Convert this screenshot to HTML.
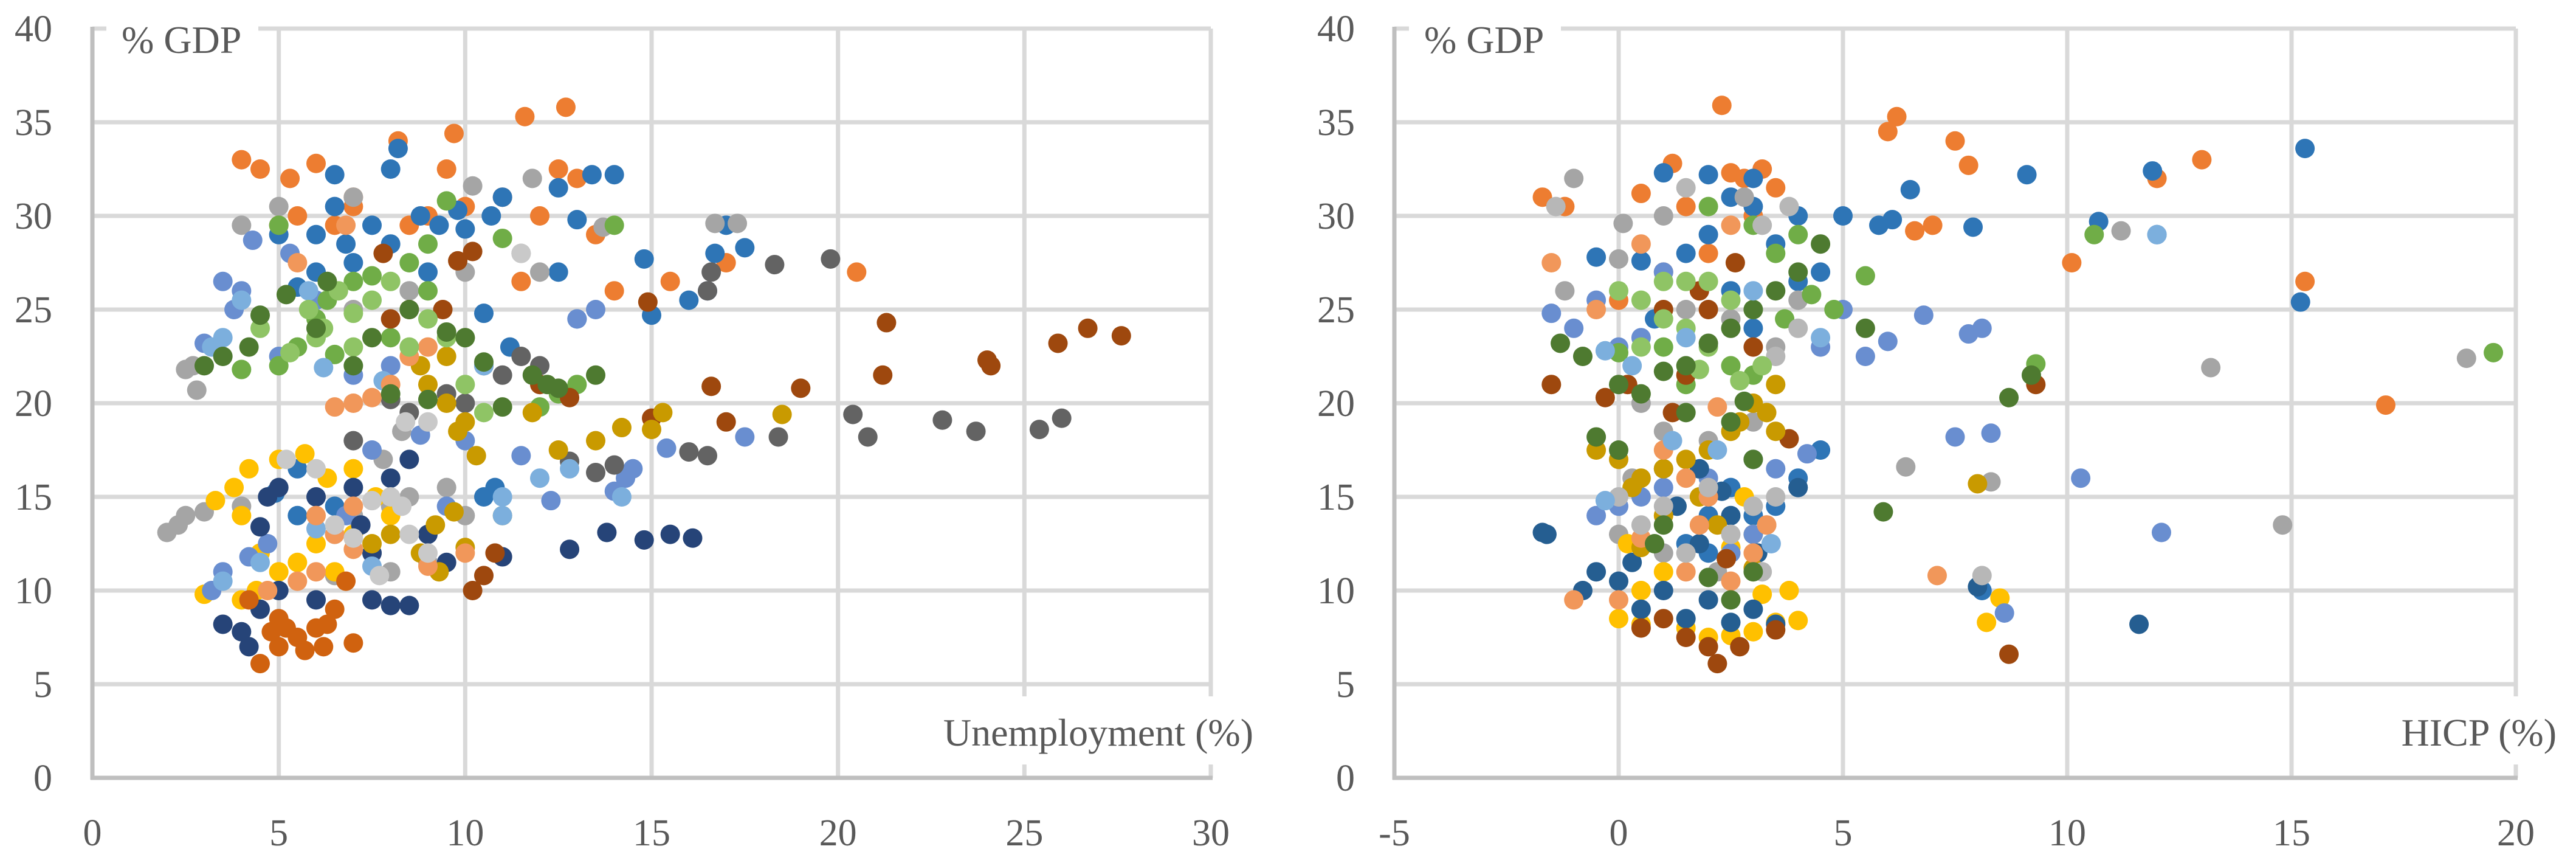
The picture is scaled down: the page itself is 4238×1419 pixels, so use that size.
<!DOCTYPE html>
<html><head><meta charset="utf-8"><style>
html,body{margin:0;padding:0;background:#fff;}
svg{display:block;}
text{font-family:"Liberation Serif",serif;fill:#595959;}
</style></head><body>
<svg id="chart" width="4238" height="1419" viewBox="0 0 4238 1419" xmlns="http://www.w3.org/2000/svg">
<g id="left"></g>
<g id="right"></g>
</svg>
<script>
// ---------- data ----------
const leftXTicks = [0,5,10,15,20,25,30];
const rightXTicks = [-5,0,5,10,15,20];
const yTicks = [0,5,10,15,20,25,30,35,40];
const seriesColors = ["#ED7D31","#2E75B6","#A5A5A5","#FFC000","#698ED0","#70AD47","#255E91","#9E480E","#636363","#C99A00","#7CAFDD","#F1975A","#B7B7B7","#8FC465","#4E7A30","#264478","#C55A11","#C9C9C9","#8FAADC"];
// left: unemployment (x), % GDP (y)
const L_orange = [[4,33],[4.5,32.5],[5.3,32],[6,32.8],[5.5,30],[7,31],[8.2,34],[9.7,34.4],[9.5,32.5],[11.6,35.3],[12.7,35.8],[12.5,32.5],[13,32],[11,31],[10,30.5],[8.5,29.5],[7,30.5],[6.5,29.5],[13.5,29],[15.5,26.5],[17,27.5],[20.5,27],[14,26],[12,30],[11.5,26.5],[9,30],[5,29.5]];
const L_blue = [[5,29],[6.5,30.5],[6,29],[6.8,28.5],[7.5,29.5],[8,32.5],[8.2,33.6],[6.5,32.2],[8.8,30],[9.3,29.5],[9.8,30.3],[10,29.3],[10.7,30],[11,31],[12.5,31.5],[13.4,32.2],[14,32.2],[13,29.8],[14.8,27.7],[16,25.5],[16.7,28],[17,29.5],[17.5,28.3],[15,24.7],[13,24.5],[12.5,27],[8,28.5],[9,27],[6,27],[5.5,26.2],[7,27.5],[10.5,24.8],[11.2,23],[10.8,15.5],[10.5,15],[6.5,14.5],[5.5,14],[4.9,15.2],[5.5,16.5]];
const L_gray = [[2,13.1],[2.3,13.5],[2.5,14],[3,14.2],[4,14.5],[2.8,20.7],[2.5,21.8],[2.7,22],[4,29.5],[5,30.5],[7,31],[10.2,31.6],[11.8,32],[11.5,28],[13.7,29.4],[16.7,29.6],[17.3,29.6],[12,27],[10,27],[8.5,26],[7,25],[6,24],[7.5,12],[8,11],[9,11.5],[8,14.5],[8.5,15],[7,14],[6.5,10.8],[10,14],[9.5,15.5],[7.8,17],[8.3,18.5]];
const L_yellow = [[3.3,14.8],[3.8,15.5],[4.2,16.5],[4,14],[4.5,12],[5.5,11.5],[6,12.5],[4.4,10],[5,17],[5.7,17.3],[6.3,16],[7,16.5],[7.6,15],[8,14],[4,9.5],[3,9.8],[6.5,11],[5,11],[7,13]];
const L_periwinkle = [[3.5,26.5],[3.8,25],[4.3,28.7],[4,26],[5.3,28],[6,25.5],[7,21.5],[8,22],[5,22.5],[3,23.2],[3.2,10],[3.5,11],[4.2,11.8],[4.7,12.5],[13,24.5],[13.5,25],[14,15.3],[14.3,16],[14.5,16.5],[12.3,14.8],[11.5,17.2],[10,18],[6.8,14],[7.5,17.5],[8.8,18.3],[17.5,18.2],[15.4,17.6],[16.5,26],[9.5,14.5]];
const L_green = [[4,21.8],[5,22],[5.5,23],[6,24.5],[6.3,25.5],[7,26.5],[7.5,26.8],[8.5,27.5],[9,28.5],[9.5,30.8],[5,29.5],[10,23.5],[11,28.8],[12.5,20.5],[13,21],[12,19.8],[14,29.5],[9,26],[8,23.5],[6.5,22.6]];
const L_darkblue = [[12.8,12.2],[13.8,13.1],[14.8,12.7],[15.5,13],[16.1,12.8],[11,11.8],[8.5,9.2],[8,9.2],[7.5,9.5],[7.5,12],[6,9.5],[5,10],[4.5,9],[4,7.8],[3.5,8.2],[4.2,7],[4.5,13.4],[4.7,15],[5,15.5],[6,15],[7,15.5],[8,16],[8.5,17],[9,13],[9.5,11.5],[7.2,13.5]];
const L_brown = [[26.7,24],[27.6,23.6],[25.9,23.2],[24,22.3],[24.1,22],[21.3,24.3],[21.2,21.5],[19,20.8],[16.6,20.9],[14.9,25.4],[12.8,20.3],[12,21],[10.2,28.1],[9.8,27.6],[10.5,10.8],[10.2,10],[10.8,12],[9.4,25],[8.5,25],[8,24.5],[7.8,28],[15,19.2],[17,19]];
const L_darkgray = [[19.8,27.7],[18.3,27.4],[16.6,27],[16.5,26],[18.4,18.2],[20.4,19.4],[20.8,18.2],[22.8,19.1],[23.7,18.5],[25.4,18.6],[26,19.2],[16.5,17.2],[16,17.4],[14,16.7],[13.5,16.3],[12.8,16.9],[10,20],[9.5,20.5],[11,21.5],[12,22],[8.5,19.5],[7,18],[8,20.2],[10.5,22],[11.5,22.5]];
const L_gold = [[8.8,22],[9.5,22.5],[9,21],[10,19],[9.5,20],[10.3,17.2],[9.8,18.5],[12.5,17.5],[11.8,19.5],[13.5,18],[14.2,18.7],[15,18.6],[15.3,19.5],[18.5,19.4],[10,12.3],[9.3,11],[8.8,12],[9.2,13.5],[8,13],[7.5,12.5],[11,14],[9.7,14.2]];
const L_lightblue = [[3.2,23],[3.5,23.5],[4,25.5],[5.8,26],[6.2,21.9],[7.8,21.2],[10.5,22],[11,15],[11,14],[12,16],[12.8,16.5],[14.2,15],[6,13.3],[6.5,13],[7.5,11.3],[3.5,10.5],[4.5,11.5]];
const L_salmon = [[5.5,27.5],[6.8,29.5],[6.5,19.8],[7,20],[7.5,20.3],[8,21],[9,23],[8.5,22.5],[6,14],[6.5,13],[7,14.5],[5.5,10.5],[6,11],[7,12.2],[9,11.3],[4.7,10],[10,12]];
const L_lightgreen = [[5.8,25],[6.2,24],[6.6,26],[7,24.8],[7.5,25.5],[7,23],[8,26.5],[8.5,23],[9,24.5],[9.5,23.5],[6,23.5],[5.3,22.7],[4.5,24],[10,21],[10.5,19.5]];
const L_darkgreen = [[3,22],[3.5,22.5],[4.2,23],[4.5,24.7],[5.2,25.8],[6,24],[6.3,26.5],[7.5,23.5],[8,20.5],[9,20.2],[10,23.5],[10.5,22.2],[11,19.8],[11.8,21.5],[12.2,21],[12.5,20.8],[13.5,21.5],[7,22],[8.5,25],[9.5,23.8]];
const L_darkorange = [[4.5,6.1],[5,7],[5.5,7.5],[6,8],[5,8.5],[4.8,7.8],[6.3,8.2],[7,7.2],[5.7,6.8],[6.5,9],[4.2,9.5],[5.2,8],[6.8,10.5],[6.2,7]];
const L_lightgray = [[6.5,13.5],[7,12.8],[7.5,14.8],[8,15],[8.3,14.5],[8.5,13],[9,12],[7.7,10.8],[8.4,19],[9,19],[5.2,17],[6,16.5],[11.5,28]];
// right: HICP (x), % GDP (y)
const R_orange = [[-1.7,31],[-1.2,30.5],[0.5,31.2],[1.2,32.8],[2.3,35.9],[2.5,32.3],[3.2,32.5],[2.8,32],[3.5,31.5],[6,34.5],[6.2,35.3],[7.5,34],[7.8,32.7],[10.1,27.5],[12,32],[13,33],[15.3,26.5],[17.1,19.9],[1.5,30.5],[3,30],[6.6,29.2],[7,29.5],[2,28],[1,27],[0,25.5]];
const R_blue = [[1,32.3],[2,32.2],[3,32],[2.5,31],[3,30.5],[4,30],[5,30],[5.8,29.5],[6.1,29.8],[6.5,31.4],[7.9,29.4],[9.1,32.2],[10.7,29.7],[11.9,32.4],[12,29],[15.3,33.6],[15.2,25.4],[2,29],[1.5,28],[3.5,28.5],[4,26.5],[4.5,27],[0.5,27.6],[-0.5,27.8],[2.5,26],[3,24],[0.8,24.5],[1,16.5],[2,14],[3,14],[3.5,14.5],[4,16],[4.5,17.5],[2.5,15.5],[1.5,12.5],[8.1,10],[2,12]];
const R_gray = [[-1,32],[0.1,29.6],[1,30],[2.8,31],[-1.2,26],[0,27.7],[11.2,29.2],[13.2,21.9],[14.8,13.5],[18.9,22.4],[6.4,16.6],[8.3,15.8],[1,18.5],[2,18],[3,19],[0.5,20],[3.5,23],[4,25.5],[1.5,25],[2.5,24.5],[0,13],[1,12],[0.3,16],[2.2,11],[3.3,13.5]];
const R_yellow = [[0,8.5],[0.5,8.2],[1.5,8],[2,7.5],[2.5,7.6],[3,7.8],[3.5,8.3],[4,8.4],[3.2,9.8],[3.8,10],[8.2,8.3],[8.5,9.6],[0.5,10],[1,11],[2.5,12.3],[3,13],[2.8,15],[0.2,12.5]];
const R_periwinkle = [[-1.5,24.8],[-1,24],[-0.5,25.5],[0,23],[0.5,23.5],[1,27],[5,25],[6,23.3],[6.8,24.7],[7.8,23.7],[8.1,24],[7.5,18.2],[8.3,18.4],[10.3,16],[12.1,13.1],[8.6,8.8],[-0.5,14],[0,14.5],[0.5,15],[1,15.5],[2,16],[3,17],[3.5,16.5],[4,15.5],[4.2,17.3],[4.5,23],[2.5,12],[3,13],[5.5,22.5]];
const R_green = [[4.3,25.8],[10.6,29],[19.5,22.7],[9.3,22.1],[5.5,26.8],[2,30.5],[3,29.5],[3.5,28],[4,29],[1,23],[0,22.7],[2.5,22],[1.5,21],[3,21.5],[4.8,25],[3.7,24.5]];
const R_darkblue = [[-0.8,10],[-0.5,11],[0,10.5],[0.5,9],[1,10],[1.5,8.5],[2,9.5],[2.5,8.3],[3,9],[1.8,12.5],[2.5,14],[1.3,14.5],[3.1,12],[4,15.5],[11.6,8.2],[8,10.2],[-1.6,13],[-1.7,13.1],[3.5,8.2],[0.3,11.5],[2.3,15.3],[1.8,16.5]];
const R_brown = [[-1.5,21],[-0.3,20.3],[0.2,21],[1,25],[1.2,19.5],[9.3,21],[8.7,6.6],[2,7],[2.2,6.1],[1.5,7.5],[0.5,8],[1,8.5],[2.7,7],[3.5,7.9],[2.4,11.7],[3.8,18.1],[3,23],[2,25],[2.6,27.5],[1.8,26],[1.5,21.5]];
const R_gold = [[-0.5,17.5],[0,17],[0.5,16],[1,16.5],[1.5,17],[2,17.5],[2.7,19],[3,20],[3.5,21],[3.3,19.5],[2.5,18.5],[8,15.7],[0.3,15.5],[1.8,15],[2.2,13.5],[3,11.2],[0.5,12.3],[1,14],[3.5,18.5]];
const R_salmon = [[-1.5,27.5],[-0.5,25],[0.5,28.5],[2.5,29.5],[7.1,10.8],[2.2,19.8],[1,17.5],[1.5,16],[2,15],[3.3,13.5],[0.5,12.8],[1.5,11],[2.5,10.5],[3,12],[0,9.5],[-1,9.5],[1.8,13.5]];
const R_lightgray = [[-1.4,30.5],[1.5,31.5],[3.2,29.5],[3.8,30.5],[8.1,10.8],[0,15],[1,14.5],[2,15.5],[3,14.5],[3.5,15],[0.5,13.5],[2.5,13],[3.2,11],[1.5,12],[4,24],[3.5,22.5]];
const R_lightgreen = [[0,26],[0.5,25.5],[1,26.5],[1.5,26.5],[2,26.5],[2.5,25.5],[1.5,24],[2,23],[1,24.5],[0.5,23],[3,25],[1.8,21.8],[2.7,21.2],[3.2,22]];
const R_darkgreen = [[-1.3,23.2],[-0.8,22.5],[0,21],[0.5,20.5],[1,21.7],[1.5,22],[2,23.2],[2.5,24],[3,25],[3.5,26],[4,27],[4.5,28.5],[5.5,24],[8.7,20.3],[9.2,21.5],[5.9,14.2],[1.5,19.5],[2.5,19],[0,17.5],[-0.5,18.2],[3,17],[1,13.5],[0.8,12.5],[2,10.7],[2.5,9.5],[3,11],[2.8,20.1]];
const R_lightblue = [[-0.3,22.8],[0.3,22],[3,26],[4.5,23.5],[1.2,18],[2.2,17.5],[3.4,12.5],[-0.3,14.8],[12,29],[1.5,23.5]];

const leftSeries = [
 ["orange",L_orange,"#ED7D31"],["blue",L_blue,"#2E75B6"],["gray",L_gray,"#A5A5A5"],["yellow",L_yellow,"#FFC000"],
 ["periwinkle",L_periwinkle,"#698ED0"],["green",L_green,"#70AD47"],["dark-blue",L_darkblue,"#264478"],["brown",L_brown,"#9E480E"],
 ["dark-gray",L_darkgray,"#636363"],["gold",L_gold,"#C99A00"],["light-blue",L_lightblue,"#7CAFDD"],["salmon",L_salmon,"#F1975A"],
 ["light-green",L_lightgreen,"#8FC465"],["dark-green",L_darkgreen,"#4E7A30"],["dark-orange",L_darkorange,"#D0620F"],["light-gray",L_lightgray,"#C9C9C9"]];
const rightSeries = [
 ["orange",R_orange,"#ED7D31"],["blue",R_blue,"#2E75B6"],["gray",R_gray,"#A5A5A5"],["yellow",R_yellow,"#FFC000"],
 ["periwinkle",R_periwinkle,"#698ED0"],["green",R_green,"#70AD47"],["dark-blue",R_darkblue,"#255E91"],["brown",R_brown,"#9E480E"],
 ["gold",R_gold,"#C99A00"],["salmon",R_salmon,"#F1975A"],["light-gray",R_lightgray,"#B7B7B7"],["light-green",R_lightgreen,"#8FC465"],
 ["dark-green",R_darkgreen,"#4E7A30"],["light-blue",R_lightblue,"#7CAFDD"]];

// ---------- drawing ----------
const NS="http://www.w3.org/2000/svg";
const Y0=1279, Y40=47;
function yScale(v){return Y0-(v/40)*(Y0-Y40);}
function mk(tag,attrs,parent){const e=document.createElementNS(NS,tag);for(const k in attrs)e.setAttribute(k,attrs[k]);parent.appendChild(e);return e;}

function drawChart(g,cfg){
  const xs=v=>cfg.x0+(v-cfg.xmin)/(cfg.xmax-cfg.xmin)*(cfg.x1-cfg.x0);
  // gridlines
  yTicks.forEach(t=>{ if(t===0)return;
    const l=mk("line",{x1:cfg.x0,x2:cfg.x1,y1:yScale(t),y2:yScale(t),stroke:"#D9D9D9","stroke-width":7},g);
    
    
  });
  cfg.xticks.forEach(t=>{ if(t===cfg.xmin)return;
    const l=mk("line",{x1:xs(t),x2:xs(t),y1:Y40,y2:Y0,stroke:"#D9D9D9","stroke-width":7},g);
    
    
  });
  // label boxes
  const b1=mk("rect",{x:cfg.ylabX-25,y:20,width:cfg.ylabW,height:110,fill:"#fff"},g);
  
  
  const b2=mk("rect",{x:cfg.xlabEnd-cfg.xlabW,y:1145,width:cfg.xlabW+10,height:112,fill:"#fff"},g);
  
  
  // axes
  const ax=mk("line",{x1:cfg.x0,x2:cfg.x0,y1:Y40-3,y2:Y0+3,stroke:"#BFBFBF","stroke-width":7},g);
  
  
  const ay=mk("line",{x1:cfg.x0-3,x2:cfg.x1+3,y1:Y0,y2:Y0,stroke:"#BFBFBF","stroke-width":7},g);
  
  
  // tick labels
  yTicks.forEach(t=>{
    const tx=mk("text",{x:cfg.ylabRight,y:yScale(t)+21,"font-size":62,"text-anchor":"end"},g);
    tx.textContent=t;
    
    
  });
  cfg.xticks.forEach(t=>{
    const tx=mk("text",{x:xs(t),y:1390,"font-size":62,"text-anchor":"middle"},g);
    tx.textContent=t;
    
    
  });
  const yt=mk("text",{x:cfg.ylabX,y:87,"font-size":64},g);
  yt.textContent="% GDP";
  
  
  const xt=mk("text",{x:cfg.xlabEnd,y:1226,"font-size":64,"text-anchor":"end"},g);
  xt.textContent=cfg.xtitle;
  
  
  // points
  cfg.series.forEach(s=>{
    const sg=mk("g",{fill:s[2]},g);
    
    
    s[1].forEach(p=>{
      const c=mk("circle",{cx:xs(p[0]),cy:yScale(p[1]),r:16},sg);
      
      
    });
  });
}
drawChart(document.getElementById("left"),{x0:152,x1:1992,xmin:0,xmax:30,xticks:leftXTicks,series:leftSeries,ylabRight:86,ylabX:200,ylabW:250,xlabEnd:2062,xlabW:560,xtitle:"Unemployment (%)"});
drawChart(document.getElementById("right"),{x0:2294,x1:4139,xmin:-5,xmax:20,xticks:rightXTicks,series:rightSeries,ylabRight:2229,ylabX:2343,ylabW:250,xlabEnd:4206,xlabW:280,xtitle:"HICP (%)"});
</script>
</body></html>
